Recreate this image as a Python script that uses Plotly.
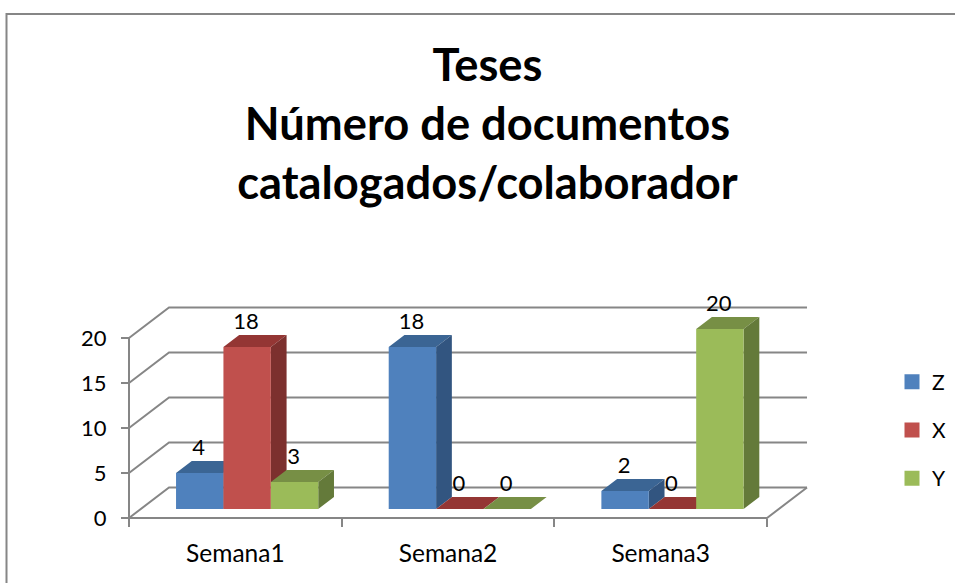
import plotly.graph_objects as go

# Datos
semanas = ['Semana1', 'Semana2', 'Semana3']
series = ['Z', 'X', 'Y']
valores_z = [4, 18, 2]
valores_x = [18, 0, 0]
valores_y = [3, 0, 20]
ticks_y = [0, 5, 10, 15, 20]

# colores: frente, techo, lado
colores = {
    'Z': ('#4F81BD', '#3B6594', '#325580'),
    'X': ('#C0504D', '#943634', '#7C302E'),
    'Y': ('#9BBB59', '#778F45', '#647A3A'),
}
gris = '#868686'
fuente = 'Lato'

# pixeles del area de trazado (con holgura para que las lineas no se corten)
izq, der, arriba, abajo = 120, 815, 300, 527
px_x = 212.67  # pixeles por semana
px_y = 9.0  # pixeles por unidad
x_min = -9 / px_x
x_max = x_min + (der - izq) / px_x
y_min = -1.0
y_max = y_min + (abajo - arriba) / px_y

# perspectiva falsa, en unidades de los ejes
fondo_x = 40 / px_x
fondo_y = 30.5 / px_y
ancho_barra = 47.4 / px_x
prof_ini = 9 / 30.5  # donde empieza la barra dentro del piso
prof_barra = 12 / 30.5


def punto(x, y, prof):
    return x + prof * fondo_x, y + prof * fondo_y


def poligono(puntos):
    xs = [p[0] for p in puntos] + [puntos[0][0], None]
    ys = [p[1] for p in puntos] + [puntos[0][1], None]
    return xs, ys


def cara(xs, ys, color):
    return go.Scatter(x=xs, y=ys, mode='lines', fill='toself', fillcolor=color,
                      line=dict(width=0), showlegend=False, hoverinfo='skip')


def linea(xs, ys):
    return go.Scatter(x=xs, y=ys, mode='lines', line=dict(color=gris, width=2),
                      showlegend=False, hoverinfo='skip')


fig = go.Figure()

# paredes
for t in ticks_y:
    fig.add_trace(linea([0, fondo_x, 3 + fondo_x], [t, t + fondo_y, t + fondo_y]))
fig.add_trace(linea([0, 3, 3 + fondo_x], [0, 0, fondo_y]))
fig.add_trace(linea([0, 0], [0, 20]))

# barras
etiq_x, etiq_y, etiq_t = [], [], []
for s, (nombre, valores) in enumerate(zip(series, [valores_z, valores_x, valores_y])):
    frente, techo, lado = [[], []], [[], []], [[], []]
    for i, v in enumerate(valores):
        x0 = i + 0.5 - 1.5 * ancho_barra + s * ancho_barra
        x1 = x0 + ancho_barra
        a, b = prof_ini, prof_ini + prof_barra
        caras = [
            (frente, [punto(x0, 0, a), punto(x1, 0, a), punto(x1, v, a), punto(x0, v, a)]),
            (techo, [punto(x0, v, a), punto(x1, v, a), punto(x1, v, b), punto(x0, v, b)]),
            (lado, [punto(x1, 0, a), punto(x1, 0, b), punto(x1, v, b), punto(x1, v, a)]),
        ]
        for destino, pts in caras:
            xs, ys = poligono(pts)
            destino[0] += xs
            destino[1] += ys
        tx, _ = punto((x0 + x1) / 2, v, a)
        _, ty = punto(x0, v, b)
        etiq_x.append(tx - 1 / px_x)
        etiq_y.append(ty + 12 / px_y)
        etiq_t.append(str(v))
    c_frente, c_techo, c_lado = colores[nombre]
    fig.add_trace(cara(techo[0], techo[1], c_techo))
    fig.add_trace(cara(lado[0], lado[1], c_lado))
    fig.add_trace(cara(frente[0], frente[1], c_frente))

# etiquetas de valores
fig.add_trace(go.Scatter(
    x=etiq_x, y=etiq_y, text=etiq_t, mode='text', textposition='middle center',
    textfont=dict(family=fuente, size=22, color='black'), cliponaxis=False,
    showlegend=False, hoverinfo='skip',
))

# leyenda
for nombre in series:
    fig.add_trace(go.Scatter(
        x=[None], y=[None], mode='markers', name=nombre, legendgroup=nombre,
        marker=dict(symbol='square', size=15, color=colores[nombre][0]),
    ))

fig.update_layout(
    width=955,
    height=583,
    margin=dict(l=izq, r=955 - der, t=arriba, b=583 - abajo, autoexpand=False),
    paper_bgcolor='white',
    plot_bgcolor='white',
    font=dict(family=fuente, size=22, color='black'),
    title=dict(
        text='<b>Teses<br>Número de documentos<br>catalogados/colaborador</b>',
        font=dict(family=fuente, size=45.3, color='black'),
        x=487.5 / 955, xanchor='center',
        y=1 - 81 / 583, yanchor='top',
    ),
    legend=dict(
        x=(892 - izq) / (der - izq), xanchor='left',
        y=(abajo - 430) / (abajo - arriba), yanchor='middle',
        itemwidth=30,
        tracegroupgap=18, bgcolor='rgba(0,0,0,0)', borderwidth=0,
        font=dict(family=fuente, size=21, color='black'),
    ),
    # marco exterior, se sale de la pagina por la derecha y abajo
    shapes=[dict(
        type='rect', xref='paper', yref='paper',
        x0=(6.5 - izq) / (der - izq), x1=(1000 - izq) / (der - izq),
        y0=(abajo - 640) / (abajo - arriba), y1=(abajo - 14) / (abajo - arriba),
        line=dict(color=gris, width=2), layer='below',
    )],
    hovermode=False,
    dragmode=False,
)

# Ejes
fig.update_xaxes(
    range=[x_min, x_max],
    anchor='free',
    position=-y_min / (y_max - y_min),
    tickvals=[0.5, 1.5, 2.5],
    ticktext=semanas,
    tickfont=dict(family=fuente, size=24.5),
    ticks='',
    ticklabelstandoff=18,
    minor=dict(tickvals=[0, 1, 2, 3], ticks='outside', ticklen=8, tickwidth=2, tickcolor=gris),
    showgrid=False,
    zeroline=False,
    showline=False,
)
fig.update_yaxes(
    range=[y_min, y_max],
    anchor='free',
    position=-x_min / (x_max - x_min),
    tickvals=ticks_y,
    ticks='outside',
    ticklen=8,
    tickwidth=2,
    tickcolor=gris,
    ticklabelstandoff=10,
    showgrid=False,
    zeroline=False,
    showline=False,
)

# sin margen del body para que la figura empiece en 0,0
fig.write_html("out.html", config=dict(displayModeBar=False),
               post_script="document.body.style.margin='0';")
